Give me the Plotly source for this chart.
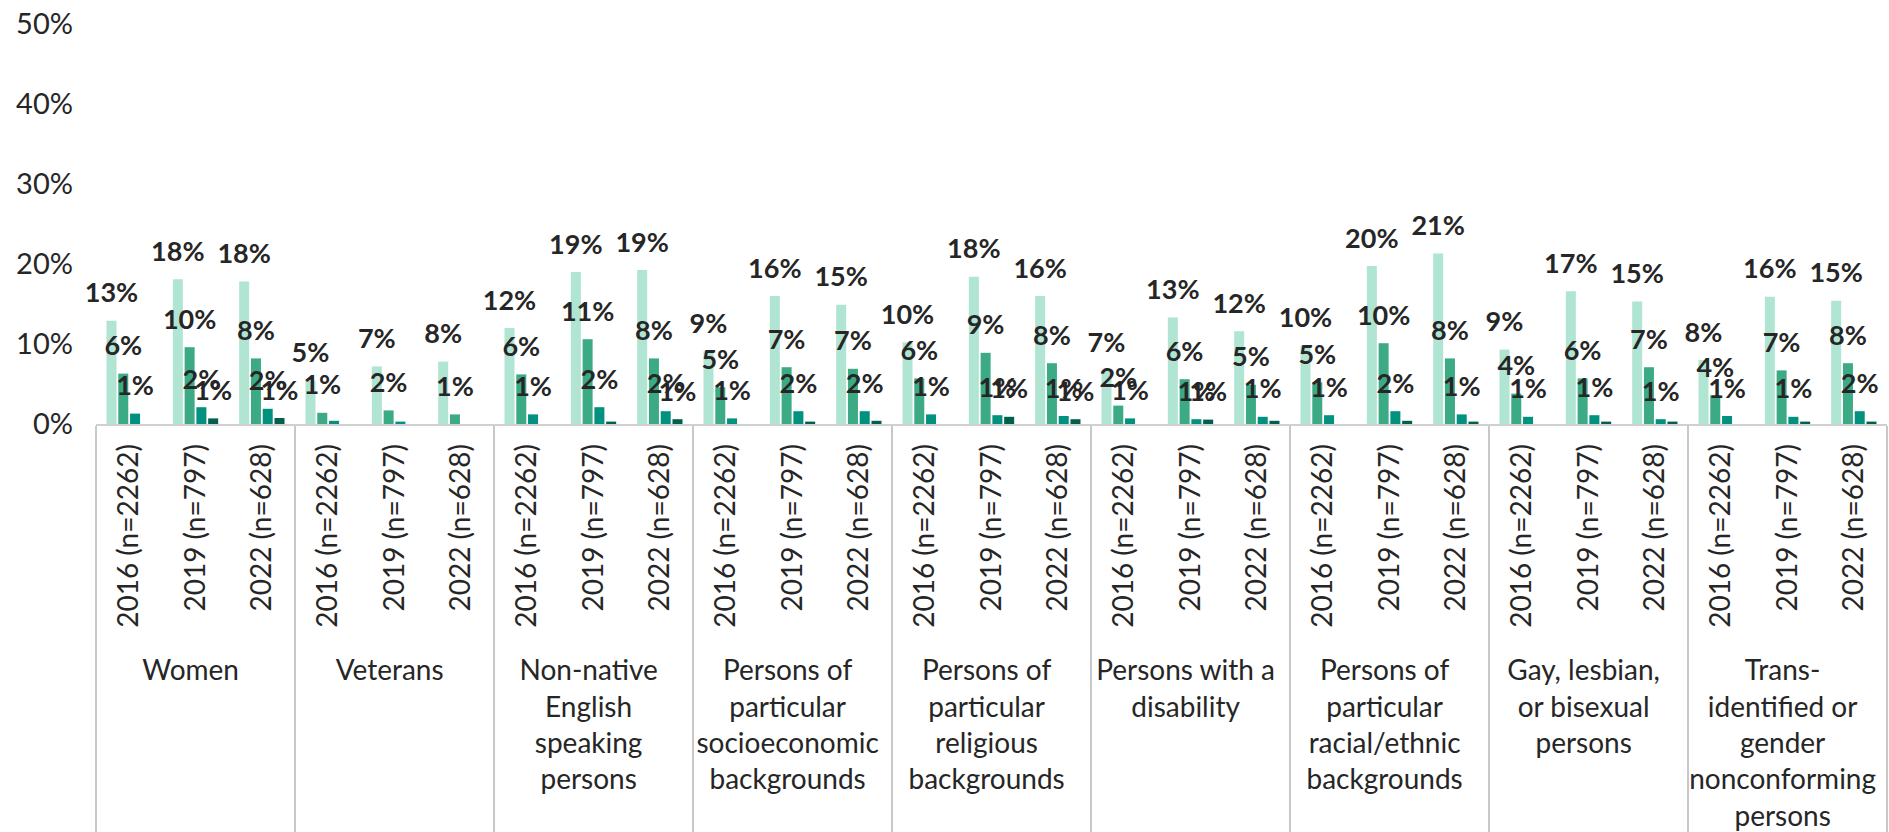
import plotly.graph_objects as go

groups = [
    "Women", "Veterans", "Non-native<br>English<br>speaking<br>persons",
    "Persons of<br>particular<br>socioeconomic<br>backgrounds",
    "Persons of<br>particular<br>religious<br>backgrounds",
    "Persons with a<br>disability",
    "Persons of<br>particular<br>racial/ethnic<br>backgrounds",
    "Gay, lesbian,<br>or bisexual<br>persons",
    "Trans-<br>identified or<br>gender<br>nonconforming<br>persons",
]
years = ["2016 (n=2262)", "2019 (n=797)", "2022 (n=628)"]

# values in percent, ordered group by group, year by year
series1 = [12.9, 18.1, 17.8, 5.4, 7.2, 7.8, 12.0, 19.0, 19.25, 9.1, 16.0, 14.9,
           10.2, 18.4, 16.0, 6.65, 13.3, 11.6, 9.8, 19.75, 21.3, 9.3, 16.6, 15.3,
           8.0, 15.9, 15.4]
series2 = [6.3, 9.6, 8.2, 1.4, 1.7, 1.2, 6.2, 10.6, 8.2, 4.6, 7.1, 6.9,
           5.7, 8.9, 7.6, 2.3, 5.6, 4.9, 5.2, 10.1, 8.2, 3.8, 5.7, 7.1,
           3.6, 6.7, 7.6]
series3 = [1.3, 2.1, 1.9, 0.4, 0.3, 0.0, 1.2, 2.1, 1.6, 0.7, 1.6, 1.6,
           1.2, 1.1, 1.0, 0.7, 0.6, 0.9, 1.1, 1.6, 1.2, 0.9, 1.1, 0.6,
           1.0, 0.9, 1.6]
series4 = [0.0, 0.7, 0.75, 0.0, 0.0, 0.0, 0.0, 0.3, 0.6, 0.0, 0.3, 0.4,
           0.0, 0.9, 0.6, 0.0, 0.55, 0.4, 0.0, 0.4, 0.3, 0.0, 0.3, 0.3,
           0.0, 0.3, 0.3]

series_names = ["Series 1", "Series 2", "Series 3", "Series 4"]
colors = ["#B0E4D3", "#3DAA86", "#00917F", "#005F4D"]

x_outer = [g for g in groups for _ in years]
# a trailing no-break space keeps the rotated labels a little off the axis
x_inner = [y + "\u00a0" for _ in groups for y in years]

GAP = 0.29
fig = go.Figure()
all_series = [series1, series2, series3, series4]
for name, vals, col in zip(series_names, all_series, colors):
    fig.add_trace(go.Bar(
        x=[x_outer, x_inner], y=vals, name=name,
        marker=dict(color=col, line=dict(width=0)),
        showlegend=False, hoverinfo="x+y",
    ))
# data labels, grouped the same way as the bars
for name, vals in zip(series_names, all_series):
    labels = [f"{v:.0f}%" if round(v) >= 1 else "" for v in vals]
    fig.add_trace(go.Scatter(
        x=[x_outer, x_inner], y=vals, name=name + " labels",
        mode="markers+text", text=labels, textposition="top center",
        marker=dict(size=17, opacity=0),
        textfont=dict(family="Lato", size=27, color="#262626", weight="bold"),
        cliponaxis=False, showlegend=False, hoverinfo="skip",
    ))

fig.update_layout(
    width=1889, height=832,
    margin=dict(l=96, r=2, t=24, b=408, pad=0),
    barmode="group", bargap=GAP, bargroupgap=0.15,
    scattermode="group", scattergap=GAP,
    plot_bgcolor="white", paper_bgcolor="white",
    font=dict(family="Lato", size=28, color="#262626"),
    yaxis=dict(range=[0, 50], dtick=10, ticksuffix="%", showgrid=False,
               zeroline=False, showline=False, ticks="", automargin=False,
               ticklabelstandoff=22,
               tickfont=dict(size=29, color="#262626")),
    xaxis=dict(type="multicategory", tickangle=-90, showline=True,
               linecolor="#D0D0D0", linewidth=1.5, ticks="", automargin=False,
               showdividers=True, dividercolor="#C8C8C8", dividerwidth=1.5,
               tickfont=dict(size=28, color="#262626")),
)

fig.write_html("out.html")
